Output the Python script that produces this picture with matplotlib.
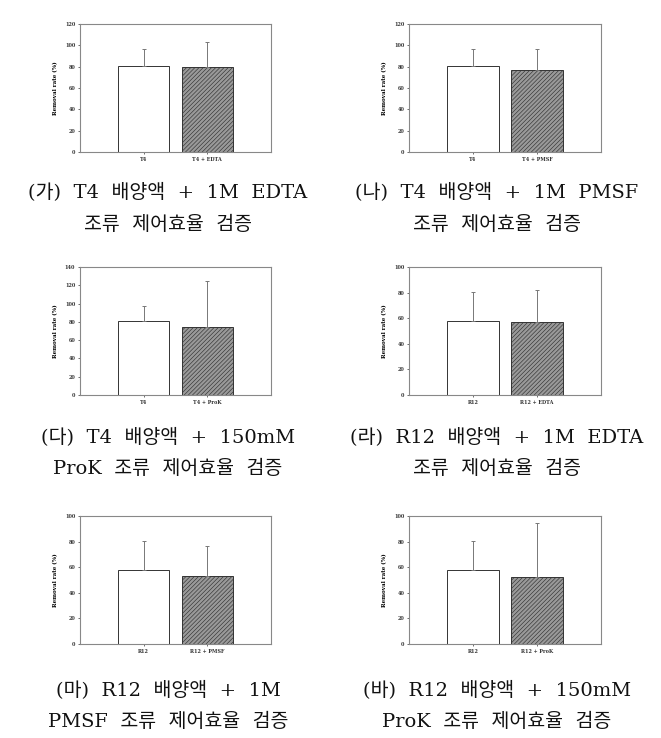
import matplotlib
matplotlib.use('Agg')
import matplotlib.pyplot as plt

W, H = 661, 738

# each panel: category labels, bar heights, upper error, y max
labels_1 = ['T4', 'T4 + EDTA']
means_1 = [81, 80]
errs_1 = [16, 23]

labels_2 = ['T4', 'T4 + PMSF']
means_2 = [81, 77]
errs_2 = [16, 20]

labels_3 = ['T4', 'T4 + ProK']
means_3 = [81, 74.5]
errs_3 = [16, 50]

labels_4 = ['R12', 'R12 + EDTA']
means_4 = [57.7, 57.4]
errs_4 = [23, 25]

labels_5 = ['R12', 'R12 + PMSF']
means_5 = [57.6, 53.2]
errs_5 = [23, 23.6]

labels_6 = ['R12', 'R12 + ProK']
means_6 = [57.6, 52.6]
errs_6 = [23, 42.2]

ymax = [120, 120, 140, 100, 100, 100]

captions = [
    '(가) T4 배양액 + 1M EDTA\n조류 제어효율 검증',
    '(나) T4 배양액 + 1M PMSF\n조류 제어효율 검증',
    '(다) T4 배양액 + 150mM\nProK 조류 제어효율 검증',
    '(라) R12 배양액 + 1M EDTA\n조류 제어효율 검증',
    '(마) R12 배양액 + 1M\nPMSF 조류 제어효율 검증',
    '(바) R12 배양액 + 150mM\nProK 조류 제어효율 검증',
]

panels = [
    (labels_1, means_1, errs_1),
    (labels_2, means_2, errs_2),
    (labels_3, means_3, errs_3),
    (labels_4, means_4, errs_4),
    (labels_5, means_5, errs_5),
    (labels_6, means_6, errs_6),
]

# axes boxes in pixels: left, top, right, bottom
boxes = [
    (80, 24, 271, 152), (409, 24, 601, 152),
    (80, 267, 271, 395), (409, 267, 601, 395),
    (80, 516, 271, 644), (409, 516, 601, 644),
]
cap_x = [168, 497]
cap_y = [(192, 225), (192, 225), (437, 469), (437, 469), (690, 722), (690, 722)]

plt.rcParams['hatch.linewidth'] = 0.45
fig = plt.figure(figsize=(W / 100, H / 100), dpi=100)

for i, ((labs, means, errs), (l, t, r, b)) in enumerate(zip(panels, boxes)):
    ax = fig.add_axes([l / W, 1 - b / H, (r - l) / W, (b - t) / H])
    x = [1, 2]
    ax.bar(x[0], means[0], width=0.8, color='white', edgecolor='#333333', linewidth=0.7)
    ax.bar(x[1], means[1], width=0.8, color='#999999', edgecolor='#333333',
           linewidth=0.7, hatch='////////')
    ax.errorbar(x, means, yerr=[[0, 0], errs], fmt='none', ecolor='#777777',
                elinewidth=0.7, capsize=1.5, capthick=0.7)
    ax.set_xlim(0, 3)
    ax.set_ylim(0, ymax[i])
    ax.set_yticks(range(0, ymax[i] + 1, 20))
    ax.set_yticklabels(['0'] + [str(v) for v in range(20, ymax[i] + 1, 20)])
    ax.set_xticks(x)
    ax.set_xticklabels(labs)
    ax.tick_params(labelsize=3.5, length=1.5, width=0.5, pad=2, colors='#333333')
    for lab in ax.get_xticklabels() + ax.get_yticklabels():
        lab.set_family('DejaVu Serif')
        lab.set_fontweight('bold')
    for s in ax.spines.values():
        s.set_color('#888888')
        s.set_linewidth(0.8)
    ax.set_ylabel('Removal rate (%)', fontsize=4, family='DejaVu Serif',
                  fontweight='bold', labelpad=5)

    line1, line2 = captions[i].split('\n')
    for txt, yy in zip((line1, line2), cap_y[i]):
        fig.text(cap_x[i % 2] / W, 1 - yy / H, txt.replace(' ', '  '),
                 ha='center', va='center', fontsize=14,
                 family=['DejaVu Serif', 'Noto Sans CJK KR'], color='#111111')

fig.savefig('out.png', dpi=100)
